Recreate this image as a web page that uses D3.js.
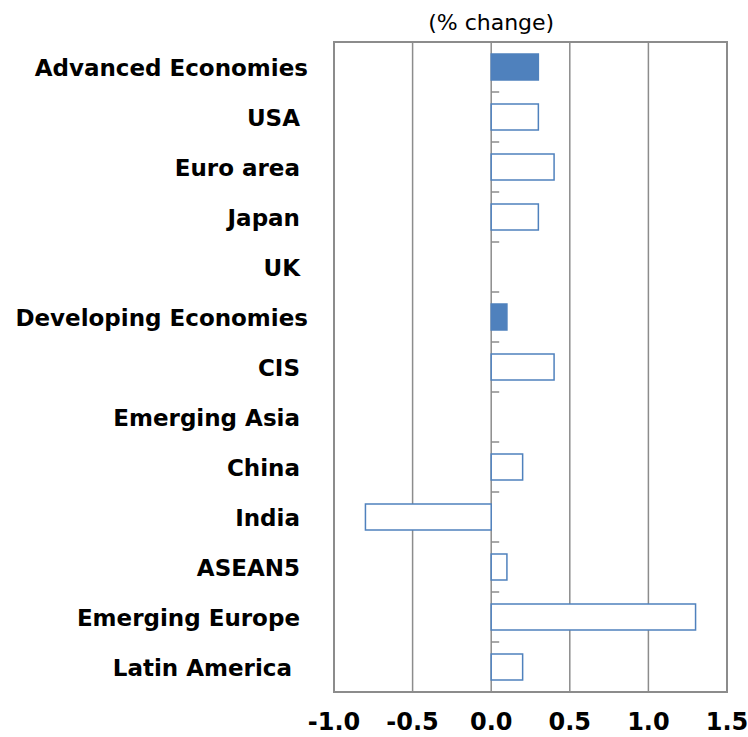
<!doctype html>
<html lang="en">
  <head>
    <meta charset="UTF-8" />
    <title>% change by region</title>
    <script src="https://unpkg.com/d3@7.9.0/dist/d3.min.js"></script>
    <style>
      body {
        margin: 0;
        background: #fff;
      }
      .cat {
        font-family: 'DejaVu Sans', Verdana, sans-serif;
        font-weight: bold;
        font-size: 23px;
        fill: #000;
        white-space: pre;
      }
      .xtick {
        font-family: 'DejaVu Sans', Verdana, sans-serif;
        font-weight: bold;
        font-size: 24px;
        fill: #000;
      }
      .unit {
        font-family: 'DejaVu Sans', Verdana, sans-serif;
        font-size: 22px;
        fill: #000;
      }
    </style>
  </head>
  <body>
    <svg width="748" height="737"></svg>

    <script>
      // data
      const categories = [
        'Advanced Economies',
        'USA ',
        'Euro area ',
        'Japan ',
        'UK ',
        'Developing Economies',
        'CIS ',
        'Emerging Asia ',
        'China ',
        'India ',
        'ASEAN5 ',
        'Emerging Europe ',
        'Latin America  ',
      ];
      const values = [0.3, 0.3, 0.4, 0.3, 0, 0.1, 0.4, 0, 0.2, -0.8, 0.1, 1.3, 0.2];
      const aggregates = ['Advanced Economies', 'Developing Economies'];
      const xTicks = [-1.0, -0.5, 0.0, 0.5, 1.0, 1.5];

      const svg = d3.select('svg');
      const plot = { left: 334, right: 727, top: 42, bottom: 692 };
      const blue = '#4F81BD';
      const gray = '#8C8C8C';

      const x = d3.scaleLinear().domain([-1, 1.5]).range([plot.left, plot.right]);
      const y = d3
        .scaleBand()
        .domain(categories)
        .range([plot.top, plot.bottom])
        .paddingInner(0.48)
        .paddingOuter(0.24);
      const step = y.step();

      // vertical gridlines
      svg
        .append('g')
        .selectAll('line')
        .data(xTicks.slice(1, -1))
        .enter()
        .append('line')
        .attr('x1', (d) => x(d))
        .attr('x2', (d) => x(d))
        .attr('y1', plot.top)
        .attr('y2', plot.bottom)
        .attr('stroke', gray)
        .attr('stroke-width', 1.5);

      // frame
      svg
        .append('rect')
        .attr('x', plot.left)
        .attr('y', plot.top)
        .attr('width', plot.right - plot.left)
        .attr('height', plot.bottom - plot.top)
        .attr('fill', 'none')
        .attr('stroke', gray)
        .attr('stroke-width', 2);

      // category tick marks on the zero axis
      svg
        .append('g')
        .selectAll('line')
        .data(d3.range(1, categories.length))
        .enter()
        .append('line')
        .attr('x1', x(0))
        .attr('x2', x(0) + 8)
        .attr('y1', (i) => plot.top + i * step)
        .attr('y2', (i) => plot.top + i * step)
        .attr('stroke', gray)
        .attr('stroke-width', 1.5);

      // bars
      svg
        .append('g')
        .selectAll('rect')
        .data(categories.filter((c, i) => values[i] !== 0))
        .enter()
        .append('rect')
        .attr('x', (c) => x(Math.min(0, values[categories.indexOf(c)])))
        .attr('y', (c) => y(c))
        .attr('width', (c) => Math.abs(x(values[categories.indexOf(c)]) - x(0)))
        .attr('height', y.bandwidth())
        .attr('fill', (c) => (aggregates.includes(c) ? blue : '#fff'))
        .attr('stroke', blue)
        .attr('stroke-width', 1.5);

      // category labels
      svg
        .append('g')
        .selectAll('text')
        .data(categories)
        .enter()
        .append('text')
        .attr('class', 'cat')
        .attr('x', 308)
        .attr('y', (c) => y(c) + y.bandwidth() / 2)
        .attr('dy', '0.37em')
        .attr('text-anchor', 'end')
        .text((c) => c);

      // x tick labels (plain hyphen for negatives)
      svg
        .append('g')
        .selectAll('text')
        .data(xTicks)
        .enter()
        .append('text')
        .attr('class', 'xtick')
        .attr('x', (d) => x(d))
        .attr('y', 730)
        .attr('text-anchor', 'middle')
        .text((d) => d3.format('.1f')(d).replace('\u2212', '-'));

      svg
        .append('text')
        .attr('class', 'unit')
        .attr('x', x(0))
        .attr('y', 30)
        .attr('text-anchor', 'middle')
        .text('(% change)');
    </script>
  </body>
</html>
